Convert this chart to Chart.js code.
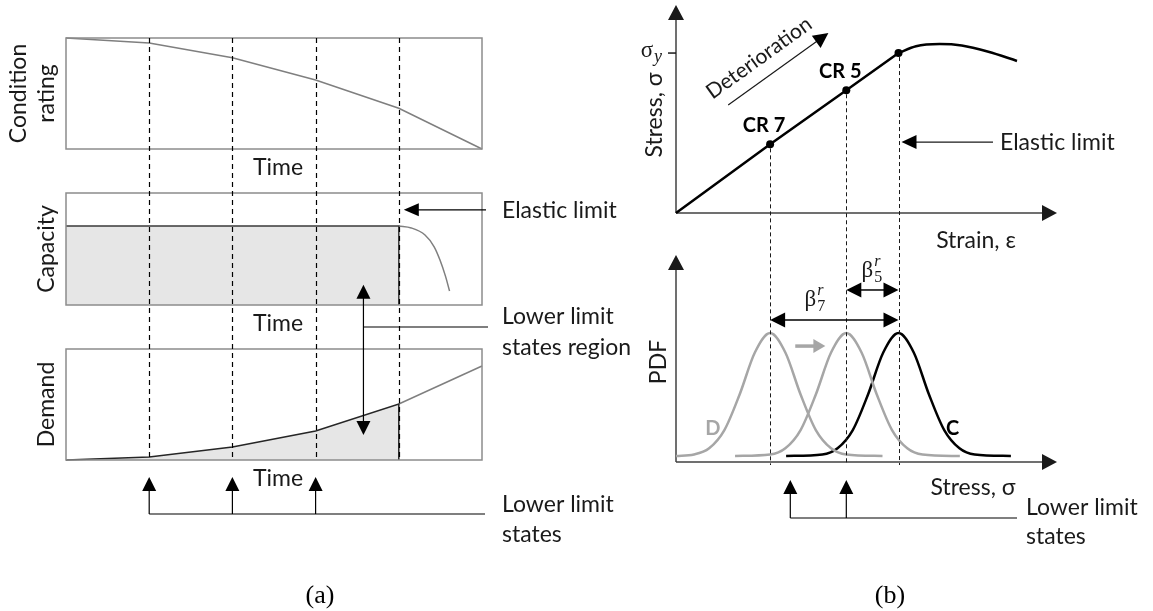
<!DOCTYPE html>
<html lang="en">
<head>
<meta charset="UTF-8">
<title>Condition rating, capacity and demand</title>
<script src="https://cdn.jsdelivr.net/npm/chart.js@4.4.1/dist/chart.umd.min.js"></script>
<style>
    body { margin: 0; background: #fff; }
    #stage { position: relative; width: 1153px; height: 611px; }
    #stage canvas { position: absolute; left: 0; top: 0; }
</style>
</head>
<body>
<div id="stage">
    <canvas id="cond" width="1153" height="611"></canvas>
    <canvas id="cap" width="1153" height="611"></canvas>
    <canvas id="demand" width="1153" height="611"></canvas>
    <canvas id="ss" width="1153" height="611"></canvas>
    <canvas id="pdf" width="1153" height="611"></canvas>
</div>
<script>
// ---- (a) time histories ----
const timePts = [0, 2, 4, 6, 8, 10];
const conditionRating = [9, 8.6, 7.4, 5.6, 3.3, 0];
const capacityTime = [0, 8];
const capacityLevel = [7.05, 7.05];
const capacityDropTime = [8, 8.3, 8.63, 8.85, 8.99, 9.12, 9.22];
const capacityDrop = [7.05, 6.88, 6.25, 5.2, 4.02, 2.6, 1.25];
const demandLevel = [0, 0.27, 1.17, 2.61, 5.05, 8.47];
const limitTimes = [2, 4, 6, 8];
const lowerLimitTimes = [2, 4, 6];
const elasticMark = 8.5;              // capacity level of the "Elastic limit" arrow
const regionTime = 7.15;              // where the limit-state region arrow sits
const regionCapacity = 1.8;
const regionDemand = 2.25;

// ---- (b) stress-strain and PDFs ----
const strainElastic = [0, 2.47, 4.47, 5.84];
const stressElastic = [0, 3.3, 5.9, 7.69];
const strainPlastic = [5.84, 6.3, 6.92, 7.5, 8.2, 8.95];
const stressPlastic = [7.69, 8.02, 8.12, 8.05, 7.75, 7.31];
const crLabels = ['CR 7', 'CR 5'];
const pdfD7x = [0, 0.47, 0.87, 1.27, 1.67, 2.07, 2.47, 2.87, 3.27, 3.67, 4.07, 4.47, 5.42];
const pdfD5x = [1.55, 2.47, 2.87, 3.27, 3.67, 4.07, 4.47, 4.87, 5.27, 5.67, 6.07, 6.47, 7.45];
const pdfCx = [2.89, 3.84, 4.24, 4.64, 5.04, 5.44, 5.84, 6.24, 6.64, 7.04, 7.44, 7.84, 8.79];
const pdfHeight = [0.29, 0.36, 0.66, 1.54, 3.26, 5.29, 6.23, 5.29, 3.26, 1.54, 0.66, 0.36, 0.29];
const lowerStress = [3.0, 4.47];

const W = 1153, H = 611;
const SANS = 'Lato, "Noto Sans", sans-serif';
const SERIF = '"Liberation Serif", "DejaVu Serif", serif';
const GREY = '#a6a6a6';

function pts(xs, ys) {
    return xs.map((x, i) => ({ x: x, y: ys[i] }));
}

// chart area given by its edges on the page
function pad(l, t, r, b) {
    return { left: l, top: t, right: W - r, bottom: H - b };
}

function seg(ctx, x1, y1, x2, y2) {
    ctx.beginPath();
    ctx.moveTo(x1, y1);
    ctx.lineTo(x2, y2);
    ctx.stroke();
}

// filled arrow head, tip at (x, y), pointing along ang
function head(ctx, x, y, ang, len, half) {
    const c = Math.cos(ang), s = Math.sin(ang);
    ctx.beginPath();
    ctx.moveTo(x, y);
    ctx.lineTo(x - len * c + half * s, y - len * s - half * c);
    ctx.lineTo(x - len * c - half * s, y - len * s + half * c);
    ctx.closePath();
    ctx.fill();
}

function label(ctx, str, x, y, opts) {
    opts = opts || {};
    ctx.save();
    ctx.font = opts.font || ('23px ' + SANS);
    ctx.fillStyle = opts.color || '#1a1a1a';
    ctx.textAlign = opts.align || 'left';
    ctx.textBaseline = 'middle';
    ctx.translate(x, y);
    if (opts.rot) ctx.rotate(opts.rot);
    ctx.fillText(str, 0, 0);
    ctx.restore();
}

function baseOptions(area, xr, yr, panel) {
    return {
        responsive: false,
        animation: false,
        events: [],
        layout: { padding: area },
        plugins: {
            legend: { display: false },
            tooltip: { enabled: false },
            panel: panel || {}
        },
        scales: {
            x: { type: 'linear', display: false, min: xr[0], max: xr[1] },
            y: { display: false, min: yr[0], max: yr[1] }
        },
        elements: { point: { radius: 0 } }
    };
}

// box, rotated y title and "Time" for the three left panels
const panelPlugin = {
    id: 'panel',
    afterDatasetsDraw(chart, args, opts) {
        const ctx = chart.ctx, a = chart.chartArea;
        ctx.save();
        ctx.strokeStyle = '#8c8c8c';
        ctx.lineWidth = 1.5;
        ctx.strokeRect(a.left, a.top, a.right - a.left, a.bottom - a.top);
        ctx.restore();
        const lines = opts.title || [];
        const cy = (a.top + a.bottom) / 2;
        lines.forEach((t, i) => {
            const x = a.left - 19 - (lines.length - 1 - i) * 28;
            label(ctx, t, x, cy, { align: 'center', rot: -Math.PI / 2 });
        });
        label(ctx, 'Time', (a.left + a.right) / 2 + 4, a.bottom + 19, { align: 'center' });
    }
};

function drawAxes(ctx, a) {
    ctx.save();
    ctx.strokeStyle = '#404040';
    ctx.fillStyle = '#1a1a1a';
    ctx.lineWidth = 1.5;
    seg(ctx, a.left, a.bottom, a.right - 12, a.bottom);
    head(ctx, a.right, a.bottom, 0, 15, 8);
    seg(ctx, a.left, a.bottom, a.left, a.top + 12);
    head(ctx, a.left, a.top, -Math.PI / 2, 15, 8);
    ctx.restore();
}

const condChart = new Chart(document.getElementById('cond'), {
    type: 'line',
    data: {
        datasets: [{
            data: pts(timePts, conditionRating),
            borderColor: '#7f7f7f', borderWidth: 1.5, tension: 0, clip: 6
        }]
    },
    options: baseOptions(pad(66, 38, 482, 149), [0, 10], [0, 9], { title: ['Condition', 'rating'] }),
    plugins: [panelPlugin]
});

const capChart = new Chart(document.getElementById('cap'), {
    type: 'line',
    data: {
        datasets: [{
            data: pts(capacityTime, capacityLevel).concat({ x: capacityTime[1], y: 0 }),
            borderColor: '#3a3a3a', borderWidth: 1.5, tension: 0,
            fill: 'origin', backgroundColor: '#e6e6e6', clip: 6
        }, {
            data: pts(capacityDropTime, capacityDrop),
            borderColor: '#7f7f7f', borderWidth: 1.5,
            cubicInterpolationMode: 'monotone', clip: 6
        }]
    },
    options: baseOptions(pad(66, 193, 482, 305), [0, 10], [0, 10], { title: ['Capacity'] }),
    plugins: [panelPlugin]
});

// cross-panel notes of (a), drawn on the top-most left canvas
const leftNotes = {
    id: 'leftNotes',
    afterDraw(chart) {
        const ctx = chart.ctx, x = chart.scales.x, a = chart.chartArea;
        const capA = capChart.chartArea, condA = condChart.chartArea;
        const capX = capChart.scales.x, capY = capChart.scales.y;
        const textX = a.right + 20;
        ctx.save();
        ctx.strokeStyle = '#000';
        ctx.fillStyle = '#000';
        ctx.lineWidth = 1.2;
        ctx.setLineDash([5, 4]);
        limitTimes.forEach(t => {
            const px = Math.round(x.getPixelForValue(t)) + 0.5;
            seg(ctx, px, condA.top, px, a.bottom);
        });
        ctx.setLineDash([]);

        // elastic limit arrow
        const ey = capY.getPixelForValue(elasticMark);
        const ex = capX.getPixelForValue(limitTimes[3]) + 5;
        seg(ctx, ex + 10, ey, a.right + 4, ey);
        head(ctx, ex, ey, Math.PI, 15, 6.5);
        label(ctx, 'Elastic limit', textX, ey + 1);

        // lower limit states region
        const rx = x.getPixelForValue(regionTime);
        const upTip = capY.getPixelForValue(regionCapacity);
        const downTip = chart.scales.y.getPixelForValue(regionDemand);
        seg(ctx, rx, upTip + 10, rx, downTip - 10);
        head(ctx, rx, upTip, -Math.PI / 2, 14, 7);
        head(ctx, rx, downTip, Math.PI / 2, 14, 7);
        const hy = capA.bottom + 22;
        seg(ctx, rx, hy, a.right + 6, hy);
        label(ctx, 'Lower limit', textX, hy - 10);
        label(ctx, 'states region', textX, hy + 21);

        // lower limit states
        const tipY = a.bottom + 17, baseY = a.bottom + 54;
        lowerLimitTimes.forEach(t => {
            const px = x.getPixelForValue(t);
            seg(ctx, px, tipY + 10, px, baseY);
            head(ctx, px, tipY, -Math.PI / 2, 14, 7);
        });
        seg(ctx, x.getPixelForValue(lowerLimitTimes[0]), baseY, a.right + 3, baseY);
        label(ctx, 'Lower limit', textX, baseY - 9);
        label(ctx, 'states', textX, baseY + 21);

        label(ctx, '(a)', 320, 596, { font: '26px ' + SERIF, align: 'center', color: '#000' });
        ctx.restore();
    }
};

const demandChart = new Chart(document.getElementById('demand'), {
    type: 'line',
    data: {
        datasets: [{
            data: pts(timePts.slice(0, 5), demandLevel.slice(0, 5)).concat({ x: timePts[4], y: 0 }),
            borderColor: '#262626', borderWidth: 1.5, tension: 0,
            fill: 'origin', backgroundColor: '#e6e6e6', clip: 6
        }, {
            data: pts(timePts.slice(4), demandLevel.slice(4)),
            borderColor: '#7f7f7f', borderWidth: 1.5, tension: 0, clip: 6
        }]
    },
    options: baseOptions(pad(66, 349, 482, 460), [0, 10], [0, 10], { title: ['Demand'] }),
    plugins: [panelPlugin, leftNotes]
});

// ---- (b) top: stress-strain ----
const ssNotes = {
    id: 'ssNotes',
    beforeDatasetsDraw(chart) {
        drawAxes(chart.ctx, chart.chartArea);
    },
    afterDraw(chart) {
        const ctx = chart.ctx, x = chart.scales.x, y = chart.scales.y, a = chart.chartArea;
        ctx.save();
        ctx.strokeStyle = '#1a1a1a';
        ctx.fillStyle = '#000';
        ctx.lineWidth = 1.5;

        // sigma_y tick and label
        const yy = y.getPixelForValue(stressElastic[3]);
        seg(ctx, a.left - 8, yy, a.left, yy);
        label(ctx, 'σ', a.left - 29, yy - 2, { font: '23px ' + SERIF, align: 'center' });
        label(ctx, 'y', a.left - 18, yy + 4, { font: 'italic 18px ' + SERIF, align: 'center' });

        label(ctx, 'Stress, σ', a.left - 21, a.top + 110, { align: 'center', rot: -Math.PI / 2 });

        // condition rating points
        crLabels.forEach((t, i) => {
            const px = x.getPixelForValue(strainElastic[i + 1]);
            const py = y.getPixelForValue(stressElastic[i + 1]);
            label(ctx, t, px - 6, py - 19, { font: 'bold 20px ' + SANS, align: 'center', color: '#000' });
        });

        // deterioration arrow
        const x1 = x.getPixelForValue(1.37), y1 = y.getPixelForValue(5.19);
        const x2 = x.getPixelForValue(4.0), y2 = y.getPixelForValue(8.65);
        const ang = Math.atan2(y2 - y1, x2 - x1);
        ctx.lineWidth = 1.2;
        seg(ctx, x1, y1, x2 - 12 * Math.cos(ang), y2 - 12 * Math.sin(ang));
        ctx.fillStyle = '#000';
        head(ctx, x2, y2, ang, 15, 7.5);
        label(ctx, 'Deterioration', x.getPixelForValue(2.18), y.getPixelForValue(7.45), { font: '21px ' + SANS, align: 'center', rot: ang });

        // elastic limit arrow
        const ex = x.getPixelForValue(strainElastic[3]) + 3;
        const ey = y.getPixelForValue(3.41);
        const lineEnd = x.getPixelForValue(8.32);
        seg(ctx, ex + 12, ey, lineEnd, ey);
        head(ctx, ex, ey, Math.PI, 15, 7);
        label(ctx, 'Elastic limit', lineEnd + 7, ey + 1);

        label(ctx, 'Strain, ε', a.right - 81, a.bottom + 28, { align: 'center' });
        ctx.restore();
    }
};

const ssChart = new Chart(document.getElementById('ss'), {
    type: 'line',
    data: {
        datasets: [{
            data: pts(strainElastic, stressElastic),
            borderColor: '#000', borderWidth: 2.5, tension: 0,
            pointRadius: [0, 4, 4, 4], pointBackgroundColor: '#000', pointBorderWidth: 0, clip: 8
        }, {
            data: pts(strainPlastic, stressPlastic),
            borderColor: '#000', borderWidth: 2.5,
            cubicInterpolationMode: 'monotone', clip: 8
        }]
    },
    options: baseOptions(pad(676, 5, 1057, 213), [0, 10], [0, 10]),
    plugins: [ssNotes]
});

// ---- (b) bottom: PDFs ----
function betaLabel(ctx, sub, x, y) {
    ctx.save();
    ctx.fillStyle = '#1a1a1a';
    ctx.textBaseline = 'alphabetic';
    ctx.font = '23px ' + SERIF;
    const w = ctx.measureText('β').width;
    const x0 = x - (w + 8) / 2;
    ctx.fillText('β', x0, y + 8);
    ctx.font = '16px ' + SERIF;
    ctx.fillText(sub, x0 + w + 1, y + 13);
    ctx.font = 'italic 16px ' + SERIF;
    ctx.fillText('r', x0 + w + 1, y - 3);
    ctx.restore();
}

function doubleArrow(ctx, xa, xb, y) {
    seg(ctx, xa + 12, y, xb - 12, y);
    head(ctx, xa, y, Math.PI, 15, 7.5);
    head(ctx, xb, y, 0, 15, 7.5);
}

const pdfNotes = {
    id: 'pdfNotes',
    beforeDatasetsDraw(chart) {
        drawAxes(chart.ctx, chart.chartArea);
    },
    afterDraw(chart) {
        const ctx = chart.ctx, x = chart.scales.x, y = chart.scales.y, a = chart.chartArea;
        const sx = ssChart.scales.x, sy = ssChart.scales.y;
        ctx.save();
        ctx.strokeStyle = '#1a1a1a';
        ctx.fillStyle = '#000';
        ctx.lineWidth = 1;
        ctx.setLineDash([4, 3]);
        for (let i = 1; i < strainElastic.length; i++) {
            const px = Math.round(sx.getPixelForValue(strainElastic[i])) + 0.5;
            seg(ctx, px, sy.getPixelForValue(stressElastic[i]) + 4, px, a.bottom + 3);
        }
        ctx.setLineDash([]);

        label(ctx, 'PDF', a.left - 17, a.top + 107, { align: 'center', rot: -Math.PI / 2 });
        label(ctx, 'D', x.getPixelForValue(0.97), y.getPixelForValue(1.64), { font: 'bold 20px ' + SANS, align: 'center', color: GREY });
        label(ctx, 'C', x.getPixelForValue(7.26), y.getPixelForValue(1.64), { font: 'bold 20px ' + SANS, align: 'center', color: '#000' });

        // shift of the demand curve
        ctx.strokeStyle = GREY;
        ctx.fillStyle = GREY;
        ctx.lineWidth = 3.5;
        const gy = y.getPixelForValue(5.6);
        seg(ctx, x.getPixelForValue(3.13), gy, x.getPixelForValue(3.92) - 10, gy);
        head(ctx, x.getPixelForValue(3.92), gy, 0, 12, 7);

        // reliability margins
        ctx.strokeStyle = '#000';
        ctx.fillStyle = '#000';
        ctx.lineWidth = 1.5;
        const cx = x.getPixelForValue(strainElastic[3]);
        doubleArrow(ctx, x.getPixelForValue(strainElastic[1]), cx, y.getPixelForValue(6.86));
        doubleArrow(ctx, x.getPixelForValue(strainElastic[2]), cx, y.getPixelForValue(8.31));
        betaLabel(ctx, '7', x.getPixelForValue(3.63), y.getPixelForValue(7.9));
        betaLabel(ctx, '5', x.getPixelForValue(5.13), y.getPixelForValue(9.3));

        // lower limit states
        const tipY = a.bottom + 18, baseY = a.bottom + 56;
        ctx.lineWidth = 1.2;
        lowerStress.forEach(s => {
            const px = x.getPixelForValue(s);
            seg(ctx, px, tipY + 10, px, baseY);
            head(ctx, px, tipY, -Math.PI / 2, 14, 7);
        });
        const lineEnd = a.right - 40;
        seg(ctx, x.getPixelForValue(lowerStress[0]), baseY, lineEnd, baseY);
        label(ctx, 'Lower limit', lineEnd + 9, baseY - 10);
        label(ctx, 'states', lineEnd + 9, baseY + 19);

        label(ctx, 'Stress, σ', a.right - 84, a.bottom + 26, { align: 'center' });
        label(ctx, '(b)', 890, 596, { font: '26px ' + SERIF, align: 'center', color: '#000' });
        ctx.restore();
    }
};

const pdfChart = new Chart(document.getElementById('pdf'), {
    type: 'line',
    data: {
        datasets: [{
            data: pts(pdfD7x, pdfHeight),
            borderColor: GREY, borderWidth: 2.5, cubicInterpolationMode: 'monotone', clip: 6
        }, {
            data: pts(pdfD5x, pdfHeight),
            borderColor: GREY, borderWidth: 2.5, cubicInterpolationMode: 'monotone', clip: 6
        }, {
            data: pts(pdfCx, pdfHeight),
            borderColor: '#000', borderWidth: 2.5, cubicInterpolationMode: 'monotone', clip: 6
        }]
    },
    options: baseOptions(pad(676, 255, 1057, 462), [0, 10], [0, 10]),
    plugins: [pdfNotes]
});
</script>
</body>
</html>
